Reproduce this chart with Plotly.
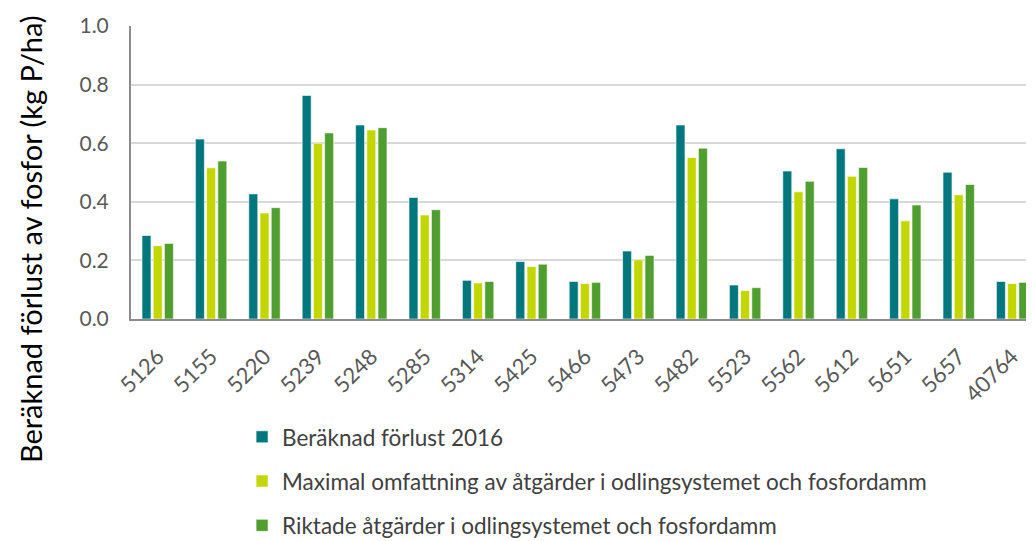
import plotly.graph_objects as go

categories = ["5126", "5155", "5220", "5239", "5248", "5285", "5314", "5425", "5466",
              "5473", "5482", "5523", "5562", "5612", "5651", "5657", "40764"]
forlust_2016 = [0.285, 0.614, 0.427, 0.763, 0.662, 0.415, 0.132, 0.196, 0.128,
                0.232, 0.662, 0.116, 0.505, 0.581, 0.410, 0.501, 0.128]
maximal = [0.250, 0.516, 0.362, 0.600, 0.645, 0.355, 0.123, 0.179, 0.121,
           0.202, 0.551, 0.097, 0.434, 0.487, 0.335, 0.424, 0.121]
riktade = [0.258, 0.539, 0.380, 0.635, 0.653, 0.373, 0.128, 0.187, 0.125,
           0.217, 0.583, 0.107, 0.470, 0.517, 0.389, 0.459, 0.125]
series_names = ["Beräknad förlust 2016",
                "Maximal omfattning av åtgärder i odlingsystemet och fosfordamm",
                "Riktade åtgärder i odlingsystemet och fosfordamm"]
colors = ["#00767D", "#C4D600", "#509E2F"]
y_ticks = [0.0, 0.2, 0.4, 0.6, 0.8, 1.0]
y_title = "Beräknad förlust av fosfor (kg P/ha)"

font_family = "Lato, 'Open Sans', sans-serif"
fig = go.Figure()
for i, (name, vals) in enumerate(zip(series_names, [forlust_2016, maximal, riktade])):
    fig.add_trace(go.Bar(
        x=categories, y=vals, name=name, legendgroup=f"g{i}",
        marker=dict(color=colors[i], line=dict(color="rgba(255,255,255,0.6)", width=1)),
    ))

# page body has an 8px margin: figure origin sits at (8, 8) in the window
fig.update_layout(
    width=1034, height=541,
    margin=dict(l=123, r=8, t=18, b=230, autoexpand=False),
    paper_bgcolor="white", plot_bgcolor="white",
    barmode="group", bargap=0.37, bargroupgap=0.2,
    font=dict(family=font_family, color="#595959"),
    legend=dict(x=0.123, y=-0.33, xanchor="left", yanchor="top",
                orientation="v", traceorder="grouped", tracegroupgap=12,
                font=dict(size=22.5, color="#404040"),
                itemwidth=30),
    showlegend=True,
)
fig.add_annotation(
    text=y_title, textangle=-90, xref="paper", yref="paper",
    x=-0.1118, y=0.273, xanchor="center", yanchor="middle", showarrow=False,
    font=dict(size=29, color="#000000", family=font_family),
)
fig.update_xaxes(
    type="category", range=[-0.5, 16.41], tickangle=-45,
    tickfont=dict(size=22, color="#595959"),
    showline=True, linecolor="#8C8C8C", linewidth=2, ticks="", showgrid=False,
    automargin=False, ticklabelstandoff=14,
)
fig.update_yaxes(
    range=[0, 1.0], tickvals=y_ticks, ticktext=[f"{v:.1f}" for v in y_ticks],
    tickfont=dict(size=21, color="#595959"),
    showline=True, linecolor="#8C8C8C", linewidth=2,
    showgrid=True, gridcolor="#D9D9D9", gridwidth=2, zeroline=False,
    ticklabelstandoff=16, automargin=False,
)
fig.write_html("out.html")
